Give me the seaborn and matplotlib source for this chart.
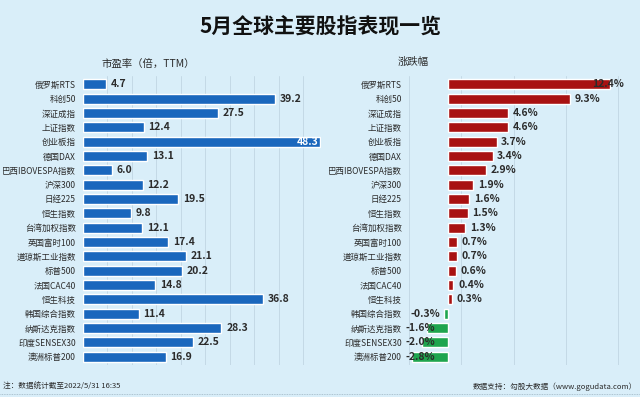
import matplotlib
matplotlib.use("Agg")
import matplotlib.pyplot as plt
import seaborn as sns
import pandas as pd

categories = ["俄罗斯RTS", "科创50", "深证成指", "上证指数", "创业板指", "德国DAX",
              "巴西IBOVESPA指数", "沪深300", "日经225", "恒生指数", "台湾加权指数",
              "英国富时100", "道琼斯工业指数", "标普500", "法国CAC40", "恒生科技",
              "韩国综合指数", "纳斯达克指数", "印度SENSEX30", "澳洲标普200"]
pe_ttm = [4.7, 39.2, 27.5, 12.4, 48.3, 13.1, 6.0, 12.2, 19.5, 9.8, 12.1,
          17.4, 21.1, 20.2, 14.8, 36.8, 11.4, 28.3, 22.5, 16.9]
change_pct = [12.4, 9.3, 4.6, 4.6, 3.7, 3.4, 2.9, 1.9, 1.6, 1.5, 1.3,
              0.7, 0.7, 0.6, 0.4, 0.3, -0.3, -1.6, -2.0, -2.8]

title = "5月全球主要股指表现一览"
left_title = "市盈率（倍，TTM）"
right_title = "涨跌幅"
note_left = "注：数据统计截至2022/5/31 16:35"
note_right = "数据支持：勾股大数据（www.gogudata.com）"

sns.set_theme(style="white")
plt.rcParams['font.family'] = ['Noto Sans CJK SC', 'DejaVu Sans']

BG = "#d9eef9"
BLUE = "#1a67bd"
RED = "#a81212"
GREEN = "#1fa54e"
GRID = "#c4d9e6"
TXT = "#2b2b2b"

df = pd.DataFrame({"cat": categories, "pe": pe_ttm, "chg": change_pct})
df["sign"] = ["pos" if v >= 0 else "neg" for v in df["chg"]]

fig = plt.figure(figsize=(6.4, 3.97), dpi=100, facecolor=BG)
W, H = 640, 397
top_px, bot_px = 75.7, 365.3

def ax_rect(x0, x1):
    return [x0 / W, 1 - bot_px / H, (x1 - x0) / W, (bot_px - top_px) / H]

axL = fig.add_axes(ax_rect(82.7, 321.0))
axR = fig.add_axes(ax_rect(405.2, 625.8))

for ax in (axL, axR):
    ax.set_facecolor(BG)
    for s in ax.spines.values():
        s.set_visible(False)

# Left panel: PE
sns.barplot(data=df, y="cat", x="pe", orient="h", color=BLUE, width=0.68,
            saturation=1, ax=axL, zorder=3)
axL.set_xlim(0, 48.6)
axL.set_ylim(19.6, -0.6)
for gx in range(5, 50, 5):
    axL.axvline(gx, color=GRID, lw=0.7, zorder=1)
for i, v in enumerate(pe_ttm):
    if v > 45:
        axL.annotate(f"{v:.1f}", (v, i), xytext=(-1, 0), textcoords="offset points",
                     ha="right", va="center", fontsize=7.5, fontweight="bold",
                     color="white", zorder=5)
    else:
        axL.annotate(f"{v:.1f}", (v, i), xytext=(3.5, 0), textcoords="offset points",
                     ha="left", va="center", fontsize=7.5, fontweight="bold",
                     color=TXT, zorder=5)

# Right panel: change
sns.barplot(data=df, y="cat", x="chg", orient="h", hue="sign",
            palette={"pos": RED, "neg": GREEN}, dodge=False, legend=False,
            width=0.68, saturation=1, ax=axR, zorder=3)
axR.set_xlim(-3.3, 13.6)
axR.set_ylim(19.6, -0.6)
for gx in [-3, 1, 5, 9, 13]:
    axR.axvline(gx, color=GRID, lw=0.7, zorder=1)
for i, v in enumerate(change_pct):
    lab = f"{v:.1f}%"
    if v >= 0:
        x = min(v + 0.35, 13.6 - 2.6)
        axR.text(x, i, lab, ha="left", va="center", fontsize=7.5,
                 fontweight="bold", color=TXT, zorder=5)
    else:
        xr = v - 0.3
        if xr - 2.2 < -3.25:
            axR.text(-3.25, i, lab, ha="left", va="center", fontsize=7.5,
                     fontweight="bold", color=TXT, zorder=5)
        else:
            axR.text(xr, i, lab, ha="right", va="center", fontsize=7.5,
                     fontweight="bold", color=TXT, zorder=5)

for ax, pad in ((axL, 5), (axR, 2.5)):
    ax.set_xlabel("")
    ax.set_ylabel("")
    ax.set_xticks([])
    ax.tick_params(axis="y", length=0, pad=pad, labelsize=6.1, labelcolor=TXT)

fig.text(0.5, 1 - 27 / H, title, ha="center", va="center", fontsize=15,
         fontweight="bold", color="#111111")
fig.text(148 / W, 1 - 64 / H, left_title, ha="center", va="center",
         fontsize=7.5, color=TXT)
fig.text(413 / W, 1 - 62 / H, right_title, ha="center", va="center",
         fontsize=7.5, color=TXT)
fig.text(3 / W, 1 - 387 / H, note_left, ha="left", va="center",
         fontsize=5.5, color=TXT)
fig.text(637 / W, 1 - 387 / H, note_right, ha="right", va="center",
         fontsize=5.5, color=TXT)
fig.add_artist(plt.Line2D([0, 1], [1 - 394 / H, 1 - 394 / H], color="#9fb5c2",
                          lw=0.6, ls=(0, (1, 1)), transform=fig.transFigure))

fig.savefig("out.png", dpi=100, facecolor=BG)
